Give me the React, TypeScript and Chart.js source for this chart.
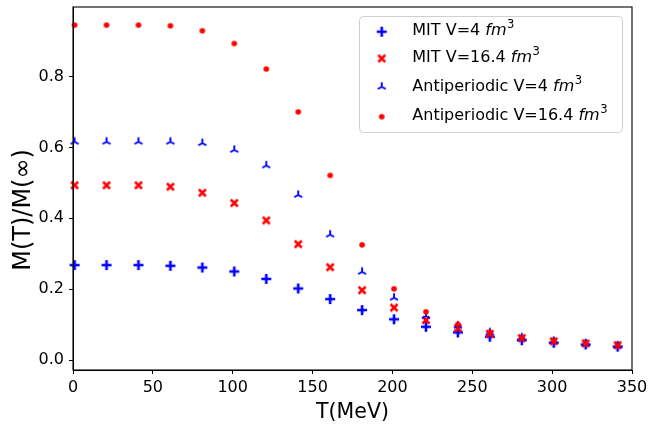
import React, { useEffect, useRef } from 'react';
import { Chart, registerables } from 'chart.js';

Chart.register(...registerables);

// ---------- data ----------
const temperatures = [1, 21, 41, 61, 81, 101, 121, 141, 161, 181, 201, 221, 241, 261, 281, 301, 321, 341];
const mitV4 = [0.268, 0.268, 0.268, 0.266, 0.261, 0.250, 0.229, 0.202, 0.172, 0.141, 0.115, 0.094, 0.078, 0.066, 0.056, 0.049, 0.044, 0.038];
const mitV16 = [0.493, 0.493, 0.493, 0.489, 0.472, 0.443, 0.394, 0.327, 0.262, 0.197, 0.148, 0.113, 0.090, 0.074, 0.062, 0.053, 0.047, 0.042];
const antiV4 = [0.616, 0.616, 0.616, 0.616, 0.612, 0.593, 0.549, 0.466, 0.354, 0.249, 0.176, 0.124, 0.097, 0.078, 0.064, 0.054, 0.047, 0.041];
const antiV16 = [0.945, 0.945, 0.945, 0.943, 0.929, 0.893, 0.821, 0.700, 0.521, 0.325, 0.201, 0.136, 0.101, 0.078, 0.063, 0.054, 0.047, 0.041];
const seriesLabels = ['MIT V=4', 'MIT V=16.4', 'Antiperiodic V=4', 'Antiperiodic V=16.4'];
const unitBase = 'fm';
const unitExp = '3';
const xTicks = [0, 50, 100, 150, 200, 250, 300, 350];
const yTicks = [0, 0.2, 0.4, 0.6, 0.8];
const xTitle = 'T(MeV)';
const yTitle = 'M(T)/M(∞)';

const FONT = "'DejaVu Sans', 'Liberation Sans', sans-serif";
const BLUE = '#0000ff';
const RED = '#ff0000';

function makeMarker(kind: string, color: string): HTMLCanvasElement {
  const s = 16;
  const c = document.createElement('canvas');
  c.width = s;
  c.height = s;
  const g = c.getContext('2d') as CanvasRenderingContext2D;
  const m = s / 2;
  g.strokeStyle = color;
  g.fillStyle = color;
  g.lineCap = 'butt';
  g.beginPath();
  if (kind === 'plus') {
    const h = 5;
    g.lineWidth = 2.6;
    g.moveTo(m - h, m); g.lineTo(m + h, m);
    g.moveTo(m, m - h); g.lineTo(m, m + h);
    g.stroke();
  } else if (kind === 'x') {
    const d = 3.5;
    g.lineWidth = 2.5;
    g.moveTo(m - d, m - d); g.lineTo(m + d, m + d);
    g.moveTo(m - d, m + d); g.lineTo(m + d, m - d);
    g.stroke();
  } else if (kind === 'tri') {
    const r = 4.6;
    g.lineWidth = 1.9;
    g.moveTo(m, m); g.lineTo(m, m - r);
    g.moveTo(m, m); g.lineTo(m - r * 0.866, m + r * 0.5);
    g.moveTo(m, m); g.lineTo(m + r * 0.866, m + r * 0.5);
    g.stroke();
  } else {
    g.arc(m, m, 2.8, 0, Math.PI * 2);
    g.fill();
  }
  return c;
}

const frameAndLegend = {
  id: 'frameAndLegend',
  afterDraw(chart: any) {
    const ctx = chart.ctx as CanvasRenderingContext2D;
    const a = chart.chartArea;
    ctx.save();
    // axes frame (all four spines)
    ctx.strokeStyle = '#000';
    ctx.lineWidth = 1.1;
    ctx.strokeRect(a.left, a.top, a.right - a.left, a.bottom - a.top);

    // y-axis title
    ctx.save();
    ctx.translate(29.5, 210);
    ctx.rotate(-Math.PI / 2);
    ctx.fillStyle = '#000';
    ctx.textAlign = 'center';
    ctx.textBaseline = 'alphabetic';
    ctx.font = `24px ${FONT}`;
    ctx.fillText(yTitle, 0, 0);
    ctx.restore();

    // legend box
    const bx = 359.5, by = 16.5, bw = 263, bh = 116;
    ctx.beginPath();
    if ((ctx as any).roundRect) (ctx as any).roundRect(bx, by, bw, bh, 4);
    else ctx.rect(bx, by, bw, bh);
    ctx.fillStyle = 'rgba(255,255,255,0.85)';
    ctx.fill();
    ctx.strokeStyle = '#d0d0d0';
    ctx.lineWidth = 1;
    ctx.stroke();

    const markerX = 381.7;
    const markerY = [31.7, 58.5, 86.7, 116.7];
    const baseY = [35, 62, 90.5, 120];
    const textX = 412.3;
    chart.data.datasets.forEach((ds: any, i: number) => {
      const img = ds.pointStyle as HTMLCanvasElement;
      ctx.drawImage(img, markerX - img.width / 2, markerY[i] - img.height / 2);
      ctx.fillStyle = '#000';
      ctx.textBaseline = 'alphabetic';
      ctx.textAlign = 'left';
      ctx.font = `16px ${FONT}`;
      const main = ds.label + ' ';
      ctx.fillText(main, textX, baseY[i]);
      let x = textX + ctx.measureText(main).width;
      ctx.font = `italic 16px ${FONT}`;
      ctx.fillText(unitBase, x, baseY[i]);
      x += ctx.measureText(unitBase).width + 0.5;
      ctx.font = `11.5px ${FONT}`;
      ctx.fillText(unitExp, x, baseY[i] - 7);
    });
    ctx.restore();
  },
};

export default function App() {
  const ref = useRef<HTMLCanvasElement | null>(null);

  useEffect(() => {
    if (!ref.current) return;
    const markers = [
      makeMarker('plus', BLUE),
      makeMarker('x', RED),
      makeMarker('tri', BLUE),
      makeMarker('dot', RED),
    ];
    const series = [mitV4, mitV16, antiV4, antiV16];
    const colors = [BLUE, RED, BLUE, RED];
    const datasets = series.map((vals, i) => ({
      label: seriesLabels[i],
      data: temperatures.map((t, j) => ({ x: t, y: vals[j] })),
      pointStyle: markers[i],
      pointRadius: 5,
      pointHoverRadius: 5,
      backgroundColor: colors[i],
      borderColor: colors[i],
      showLine: false,
      order: 3 - i,
      clip: false as any,
    }));

    const tickFont = { family: FONT, size: 16 };
    const chart = new Chart(ref.current, {
      type: 'scatter',
      data: { datasets },
      options: {
        animation: false,
        responsive: false,
        maintainAspectRatio: false,
        layout: { padding: { left: 0, right: 18, top: 7, bottom: 0 } },
        plugins: { legend: { display: false }, tooltip: { enabled: false } },
        scales: {
          x: {
            type: 'linear',
            min: 0,
            max: 350,
            afterBuildTicks: (s: any) => { s.ticks = xTicks.map((v) => ({ value: v })); },
            afterFit: (s: any) => { s.height = 56; s.paddingLeft = 0; s.paddingRight = 0; },
            ticks: {
              font: tickFont,
              color: '#000',
              padding: 4,
              maxRotation: 0,
              autoSkip: false,
              callback: (v: any) => String(v),
            },
            grid: { display: true, drawOnChartArea: false, drawTicks: true, tickLength: 4, color: '#000', lineWidth: 1 },
            border: { display: true, color: '#000', width: 1 },
            title: { display: true, text: xTitle, color: '#000', font: { family: FONT, size: 20.5 }, padding: { top: 0, bottom: 1 } },
          },
          y: {
            type: 'linear',
            min: -0.028,
            max: 0.996,
            afterBuildTicks: (s: any) => { s.ticks = yTicks.map((v) => ({ value: v })); },
            afterFit: (s: any) => { s.width = 73; s.paddingTop = 0; s.paddingBottom = 0; },
            ticks: {
              font: tickFont,
              color: '#000',
              padding: 5,
              autoSkip: false,
              callback: (v: any) => Number(v).toFixed(1),
            },
            grid: { display: true, drawOnChartArea: false, drawTicks: true, tickLength: 4, color: '#000', lineWidth: 1 },
            border: { display: true, color: '#000', width: 1 },
            title: { display: false },
          },
        },
      },
      plugins: [frameAndLegend],
    } as any);
    return () => chart.destroy();
  }, []);

  return (
    <div style={{ position: 'absolute', left: 0, top: 0, width: 650, height: 426, background: '#fff' }}>
      <canvas ref={ref} width={650} height={426} style={{ display: 'block' }} />
    </div>
  );
}
